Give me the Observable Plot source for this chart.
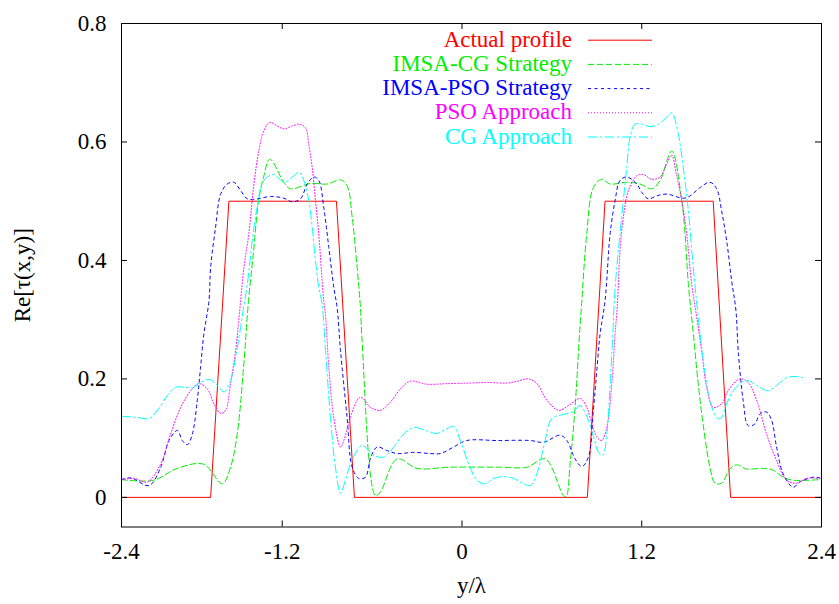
<!DOCTYPE html>
<html><head><meta charset="utf-8">
<script src="https://cdn.jsdelivr.net/npm/d3@7"></script>
<script src="https://cdn.jsdelivr.net/npm/@observablehq/plot@0.6"></script>
<style>
html,body{margin:0;padding:0;background:#fff;}
#chart{position:relative;width:839px;height:604px;font-family:'Liberation Serif','Times New Roman',Times,serif;}
#chart text{font-family:'Liberation Serif','Times New Roman',Times,serif !important;}
#legend{position:absolute;left:0;top:0;pointer-events:none;}
</style></head><body><div id="chart"></div>
<script>
// ---- axis ticks ----
const xTicks = [-2.273, -1.2, 0, 1.2, 2.4];
const xTickLabels = ["-2.4", "-1.2", "0", "1.2", "2.4"];
const yTicks = [0, 0.2, 0.4, 0.6, 0.8];
const yTickLabels = ["0", "0.2", "0.4", "0.6", "0.8"];
const xLabel = "y/λ";
const yLabel = "Re[τ(x,y)]";

// ---- series ----
const seriesNames = ["Actual profile", "IMSA-CG Strategy", "IMSA-PSO Strategy", "PSO Approach", "CG Approach"];
const seriesColors = ["#ff0000", "#00ee00", "#0000ff", "#ff00ff", "#00ffff"];
const seriesDash = [null, "6,3", "3,3.5", "1,2", "9,3,2,3"];

const actualX = [-2.273, -1.678, -1.556, -0.838, -0.718, 0.837, 0.955, 1.677, 1.793, 2.4];
const actualY = [0, 0, 0.5, 0.5, 0, 0, 0.5, 0.5, 0, 0];

const imsaCgX = [-2.273, -2.058, -1.900, -1.725, -1.600, -1.545, -1.500, -1.458, -1.425, -1.391, -1.358, -1.325, -1.283, -1.189, -1.145, -1.011, -0.900, -0.811, -0.767, -0.733, -0.700, -0.678, -0.667, -0.578, -0.545, -0.433, -0.300, -0.078, 0.255, 0.433, 0.555, 0.677, 0.695, 0.722, 0.755, 0.782, 0.800, 0.833, 0.877, 0.933, 0.989, 1.100, 1.189, 1.267, 1.322, 1.400, 1.467, 1.489, 1.511, 1.544, 1.577, 1.611, 1.655, 1.689, 1.733, 1.789, 1.833, 1.900, 2.011, 2.077, 2.144, 2.211, 2.389];
const imsaCgY = [0.030, 0.029, 0.049, 0.056, 0.023, 0.051, 0.108, 0.220, 0.332, 0.416, 0.501, 0.540, 0.571, 0.532, 0.521, 0.530, 0.529, 0.536, 0.526, 0.473, 0.388, 0.321, 0.265, 0.003, 0.009, 0.065, 0.049, 0.051, 0.051, 0.051, 0.065, 0.003, 0.001, 0.058, 0.152, 0.265, 0.332, 0.445, 0.523, 0.537, 0.529, 0.532, 0.529, 0.521, 0.535, 0.585, 0.501, 0.445, 0.361, 0.277, 0.192, 0.121, 0.051, 0.024, 0.024, 0.048, 0.055, 0.048, 0.049, 0.046, 0.034, 0.029, 0.030];

const imsaPsoX = [-2.273, -2.211, -2.089, -2.011, -1.956, -1.900, -1.867, -1.833, -1.800, -1.767, -1.745, -1.723, -1.689, -1.678, -1.645, -1.611, -1.567, -1.523, -1.478, -1.433, -1.367, -1.278, -1.189, -1.133, -1.078, -1.033, -0.989, -0.956, -0.923, -0.889, -0.856, -0.833, -0.811, -0.767, -0.733, -0.689, -0.645, -0.611, -0.567, -0.500, -0.433, -0.323, -0.211, -0.145, -0.056, 0.033, 0.233, 0.455, 0.544, 0.655, 0.700, 0.755, 0.800, 0.844, 0.877, 0.900, 0.922, 0.955, 0.989, 1.022, 1.055, 1.100, 1.167, 1.200, 1.244, 1.300, 1.367, 1.477, 1.522, 1.589, 1.655, 1.700, 1.733, 1.767, 1.800, 1.829, 1.844, 1.877, 1.911, 1.955, 1.989, 2.033, 2.067, 2.100, 2.144, 2.211, 2.255, 2.344, 2.389];
const imsaPsoY = [0.030, 0.033, 0.020, 0.051, 0.096, 0.113, 0.096, 0.089, 0.107, 0.164, 0.220, 0.276, 0.332, 0.388, 0.456, 0.512, 0.529, 0.532, 0.518, 0.504, 0.504, 0.508, 0.505, 0.499, 0.504, 0.529, 0.541, 0.535, 0.490, 0.422, 0.355, 0.319, 0.248, 0.135, 0.051, 0.032, 0.034, 0.066, 0.085, 0.079, 0.074, 0.076, 0.074, 0.074, 0.085, 0.096, 0.096, 0.096, 0.093, 0.105, 0.096, 0.065, 0.052, 0.068, 0.147, 0.214, 0.276, 0.332, 0.445, 0.501, 0.535, 0.541, 0.529, 0.515, 0.504, 0.509, 0.512, 0.505, 0.509, 0.523, 0.532, 0.521, 0.484, 0.433, 0.366, 0.315, 0.248, 0.164, 0.121, 0.124, 0.141, 0.144, 0.130, 0.085, 0.040, 0.017, 0.026, 0.034, 0.033];

const psoX = [-2.273, -2.189, -2.100, -2.011, -1.945, -1.878, -1.811, -1.756, -1.700, -1.656, -1.611, -1.578, -1.545, -1.511, -1.489, -1.456, -1.423, -1.389, -1.356, -1.323, -1.283, -1.233, -1.189, -1.133, -1.089, -1.045, -1.023, -1.000, -0.978, -0.956, -0.940, -0.923, -0.911, -0.889, -0.856, -0.811, -0.789, -0.745, -0.700, -0.678, -0.656, -0.611, -0.545, -0.478, -0.411, -0.345, -0.233, -0.100, 0.055, 0.167, 0.300, 0.367, 0.444, 0.500, 0.567, 0.644, 0.711, 0.789, 0.833, 0.855, 0.900, 0.933, 0.967, 1.000, 1.022, 1.037, 1.055, 1.077, 1.111, 1.167, 1.211, 1.267, 1.322, 1.367, 1.400, 1.429, 1.467, 1.500, 1.533, 1.567, 1.600, 1.633, 1.677, 1.733, 1.777, 1.833, 1.867, 1.911, 1.967, 2.033, 2.100, 2.167, 2.233, 2.300, 2.389];
const psoY = [0.030, 0.032, 0.026, 0.057, 0.107, 0.152, 0.180, 0.192, 0.183, 0.158, 0.142, 0.147, 0.192, 0.248, 0.302, 0.388, 0.445, 0.529, 0.585, 0.619, 0.633, 0.627, 0.622, 0.627, 0.630, 0.624, 0.596, 0.557, 0.501, 0.445, 0.388, 0.332, 0.307, 0.220, 0.135, 0.085, 0.096, 0.135, 0.164, 0.169, 0.166, 0.152, 0.147, 0.161, 0.183, 0.196, 0.191, 0.192, 0.193, 0.194, 0.193, 0.196, 0.200, 0.192, 0.164, 0.147, 0.155, 0.167, 0.152, 0.135, 0.102, 0.096, 0.119, 0.192, 0.276, 0.324, 0.417, 0.473, 0.518, 0.543, 0.545, 0.537, 0.541, 0.563, 0.578, 0.548, 0.501, 0.445, 0.361, 0.304, 0.248, 0.186, 0.152, 0.158, 0.180, 0.197, 0.200, 0.194, 0.164, 0.107, 0.062, 0.029, 0.024, 0.032, 0.032];

const cgX = [-2.273, -2.167, -2.089, -2.033, -1.967, -1.911, -1.856, -1.800, -1.745, -1.689, -1.633, -1.589, -1.545, -1.511, -1.478, -1.456, -1.433, -1.400, -1.367, -1.323, -1.256, -1.189, -1.123, -1.089, -1.056, -1.023, -1.000, -0.978, -0.956, -0.933, -0.911, -0.878, -0.845, -0.811, -0.778, -0.745, -0.700, -0.667, -0.589, -0.523, -0.456, -0.389, -0.323, -0.233, -0.167, -0.100, -0.056, -0.011, 0.044, 0.100, 0.155, 0.211, 0.277, 0.344, 0.411, 0.455, 0.500, 0.555, 0.600, 0.677, 0.744, 0.789, 0.833, 0.877, 0.911, 0.940, 0.967, 0.989, 1.007, 1.017, 1.033, 1.055, 1.077, 1.100, 1.122, 1.155, 1.200, 1.255, 1.311, 1.355, 1.400, 1.444, 1.477, 1.511, 1.544, 1.577, 1.611, 1.655, 1.700, 1.727, 1.767, 1.811, 1.867, 1.911, 1.967, 2.044, 2.100, 2.167, 2.233, 2.277];
const cgY = [0.137, 0.135, 0.133, 0.147, 0.172, 0.186, 0.186, 0.185, 0.194, 0.199, 0.189, 0.178, 0.197, 0.237, 0.287, 0.324, 0.360, 0.433, 0.490, 0.535, 0.545, 0.532, 0.543, 0.549, 0.535, 0.501, 0.456, 0.400, 0.355, 0.324, 0.248, 0.135, 0.051, 0.007, 0.029, 0.057, 0.079, 0.088, 0.071, 0.068, 0.085, 0.107, 0.118, 0.112, 0.108, 0.116, 0.120, 0.096, 0.057, 0.029, 0.023, 0.032, 0.035, 0.032, 0.023, 0.020, 0.040, 0.096, 0.133, 0.140, 0.145, 0.155, 0.137, 0.103, 0.076, 0.071, 0.107, 0.192, 0.276, 0.332, 0.388, 0.445, 0.501, 0.557, 0.608, 0.630, 0.630, 0.626, 0.630, 0.639, 0.649, 0.613, 0.557, 0.484, 0.388, 0.304, 0.231, 0.164, 0.135, 0.133, 0.158, 0.180, 0.194, 0.197, 0.189, 0.180, 0.189, 0.202, 0.204, 0.202];

const seriesX = [actualX, imsaCgX, imsaPsoX, psoX, cgX];
const seriesY = [actualY, imsaCgY, imsaPsoY, psoY, cgY];

const rows = [];
seriesNames.forEach((name, s) => {
  seriesX[s].forEach((x, i) => rows.push({series: name, x, y: seriesY[s][i]}));
});

const W = 839, H = 604;
const mL = 121, mR = 18, mT = 23, mB = 77.5;
const frameH = H - mT - mB, frameW = W - mL - mR;
const FONT = "'Liberation Serif','Times New Roman',Times,serif";

const lineMarks = seriesNames.map((name, s) => Plot.line(rows.filter(r => r.series === name), {
  x: "x", y: "y",
  stroke: seriesColors[s],
  strokeWidth: 1,
  strokeDasharray: seriesDash[s] || undefined,
  curve: s === 0 ? "linear" : "catmull-rom"
}));

const plot = Plot.plot({
  width: W, height: H,
  marginLeft: mL, marginRight: mR, marginTop: mT, marginBottom: mB,
  style: {fontFamily: FONT, fontSize: "23px", background: "#fff", color: "#000"},
  x: {domain: [-2.273, 2.4]},
  y: {domain: [-0.05, 0.8]},
  marks: [
    ...lineMarks,
    Plot.frame({stroke: "#000", strokeWidth: 1}),
    // inward ticks on all four sides
    Plot.tickX(xTicks, {x: d => d, insetTop: frameH - 6, stroke: "#000"}),
    Plot.tickX(xTicks, {x: d => d, insetBottom: frameH - 6, stroke: "#000"}),
    Plot.tickY(yTicks, {y: d => d, insetRight: frameW - 6, stroke: "#000"}),
    Plot.tickY(yTicks, {y: d => d, insetLeft: frameW - 6, stroke: "#000"}),
    Plot.axisX({ticks: xTicks, tickFormat: d => xTickLabels[xTicks.indexOf(d)], tickSize: 0, tickPadding: 16, label: null, fontSize: 23, fontFamily: FONT}),
    Plot.axisY({ticks: yTicks, tickFormat: d => yTickLabels[yTicks.indexOf(d)], tickSize: 0, tickPadding: 15, label: null, fontSize: 23, fontFamily: FONT}),
    Plot.text([xLabel], {text: d => d, frameAnchor: "bottom", dy: 58.5, lineAnchor: "middle", fontSize: 23, fontFamily: FONT}),
    Plot.text([yLabel], {text: d => d, frameAnchor: "left", dx: -99, rotate: -90, lineAnchor: "middle", textAnchor: "middle", fontSize: 23, fontFamily: FONT})
  ]
});

const chart = document.getElementById("chart");
chart.appendChild(plot);

// legend overlay (inside the plot area, top right)
const leg = d3.select(chart).append("svg").attr("id", "legend").attr("width", W).attr("height", H);
const legBaselines = [46.7, 70.9, 95.1, 119.3, 143.5];
seriesNames.forEach((name, s) => {
  leg.append("text")
    .attr("x", 572).attr("y", legBaselines[s])
    .attr("text-anchor", "end")
    .attr("fill", seriesColors[s])
    .style("font-size", "23px")
    .text(name);
  leg.append("line")
    .attr("x1", 588).attr("x2", 652)
    .attr("y1", legBaselines[s] - 6.5).attr("y2", legBaselines[s] - 6.5)
    .attr("stroke", seriesColors[s]).attr("stroke-width", 1)
    .attr("stroke-dasharray", seriesDash[s]);
});
</script>
</body></html>
